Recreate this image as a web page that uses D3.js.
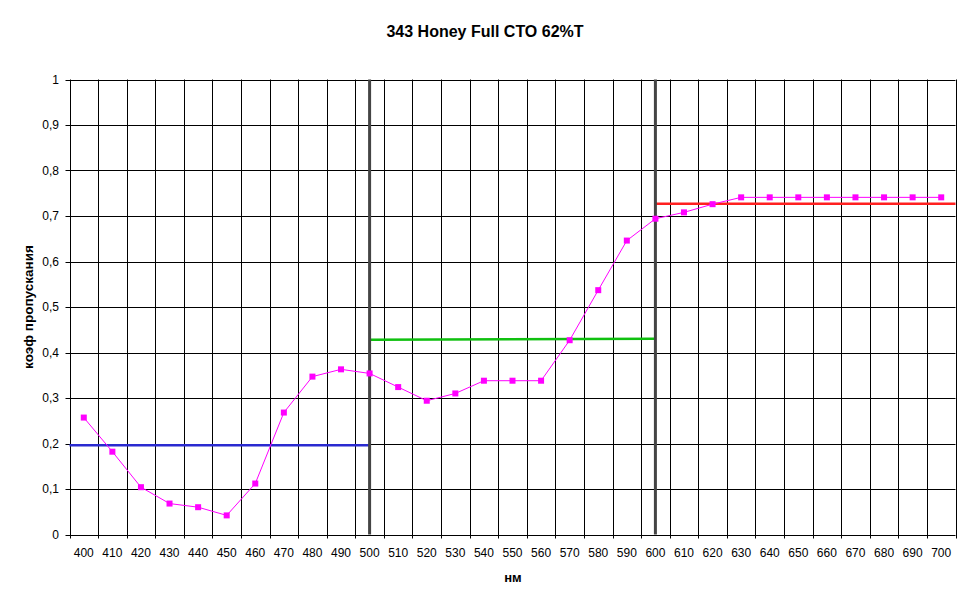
<!DOCTYPE html>
<html><head><meta charset="utf-8">
<script src="https://cdn.jsdelivr.net/npm/d3@7"></script>
<style>
html,body{margin:0;padding:0;background:#fff;}
svg{display:block;font-family:Arial,"Liberation Sans",sans-serif;}
</style></head>
<body>
<svg id="chart" width="970" height="604"></svg>
<script>
const title = "343 Honey Full CTO 62%T";
const yLabel = "коэф пропускания";
const xLabel = "нм";
const wavelengths = [400,410,420,430,440,450,460,470,480,490,500,510,520,530,540,550,560,570,580,590,600,610,620,630,640,650,660,670,680,690,700];
const transmission = [0.257,0.182,0.104,0.068,0.060,0.042,0.112,0.268,0.347,0.363,0.354,0.324,0.294,0.310,0.338,0.338,0.338,0.427,0.537,0.646,0.694,0.708,0.726,0.741,0.741,0.741,0.741,0.741,0.741,0.741,0.741];
const yTicks = [0,0.1,0.2,0.3,0.4,0.5,0.6,0.7,0.8,0.9,1];
// average levels per band: [from nm, to nm, value at start, value at end]
const blueSeg = [395, 500, 0.196, 0.196];
const greenSeg = [500, 600, 0.428, 0.430];
const redSeg = [600, 705, 0.727, 0.727];
const dividers = [500, 600];

const svg = d3.select("#chart");
const L = 69.5, R = 955.5, T = 79.5, B = 534.5;

const x = d3.scaleBand().domain(wavelengths).range([L, R]).padding(0);
const xl = d3.scaleLinear().domain([395, 705]).range([L, R]);
const y = d3.scaleLinear().domain([0, 1]).range([B, T]);

const fmt = v => (v === 0 || v === 1) ? String(v) : d3.format(".1f")(v).replace(".", ",");

// horizontal gridlines
svg.append("g").selectAll("line").data(yTicks).join("line")
  .attr("x1", L - 4).attr("x2", R)
  .attr("y1", d => Math.round(y(d)) + 0.5).attr("y2", d => Math.round(y(d)) + 0.5)
  .attr("stroke", "#000").attr("stroke-width", 1);

// vertical gridlines at category boundaries
const bounds = wavelengths.map(w => x(w)).concat([R]);
svg.append("g").selectAll("line").data(bounds).join("line")
  .attr("x1", d => Math.round(d) + 0.5).attr("x2", d => Math.round(d) + 0.5)
  .attr("y1", T).attr("y2", B + 4)
  .attr("stroke", "#000").attr("stroke-width", 1);

// y labels
svg.append("g").selectAll("text").data(yTicks).join("text")
  .attr("x", 59).attr("y", d => y(d) + 4)
  .attr("text-anchor", "end").attr("font-size", 12).text(fmt);

// x labels
svg.append("g").selectAll("text").data(wavelengths).join("text")
  .attr("x", d => x(d) + x.bandwidth() / 2).attr("y", 557)
  .attr("text-anchor", "middle").attr("font-size", 12).text(d => d);

// reference level lines
const segs = [[blueSeg, "#2a2ad0"], [greenSeg, "#10c010"], [redSeg, "#ff2020"]];
svg.append("g").selectAll("line").data(segs).join("line")
  .attr("x1", d => xl(d[0][0])).attr("x2", d => xl(d[0][1]))
  .attr("y1", d => y(d[0][2])).attr("y2", d => y(d[0][3]))
  .attr("stroke", d => d[1]).attr("stroke-width", 2.5);

// dividers
svg.append("g").selectAll("line").data(dividers).join("line")
  .attr("x1", d => xl(d)).attr("x2", d => xl(d))
  .attr("y1", T).attr("y2", B)
  .attr("stroke", "#444").attr("stroke-width", 3);

// data line
const pts = wavelengths.map((w, i) => [x(w) + x.bandwidth() / 2, y(transmission[i])]);
svg.append("path").attr("d", d3.line()(pts))
  .attr("fill", "none").attr("stroke", "#ff00ff").attr("stroke-width", 1);
svg.append("g").selectAll("rect").data(pts).join("rect")
  .attr("x", d => d[0] - 3).attr("y", d => d[1] - 3)
  .attr("width", 6).attr("height", 6).attr("fill", "#ff00ff");

// titles
svg.append("text").attr("x", 485).attr("y", 37).attr("text-anchor", "middle")
  .attr("font-size", 16).attr("font-weight", "bold").text(title);
svg.append("text").attr("x", 513).attr("y", 582).attr("text-anchor", "middle")
  .attr("font-size", 13).attr("font-weight", "bold").text(xLabel);
svg.append("text").attr("transform", "translate(33,307) rotate(-90)").attr("text-anchor", "middle")
  .attr("font-size", 13.5).attr("font-weight", "bold").text(yLabel);
</script>
</body></html>
